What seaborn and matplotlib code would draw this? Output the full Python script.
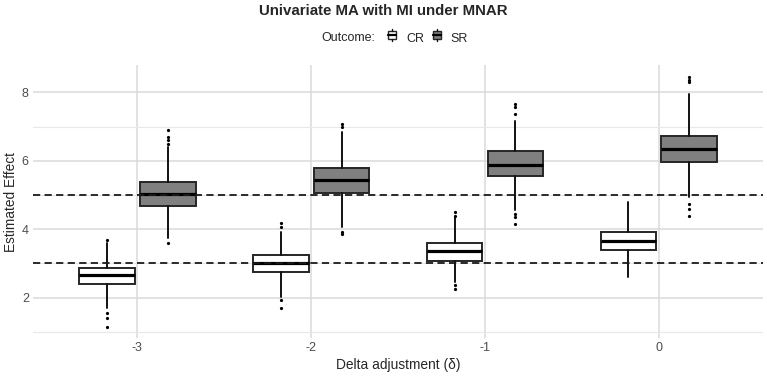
import numpy as np
import pandas as pd
import seaborn as sns
import matplotlib
matplotlib.use("Agg")
import matplotlib.pyplot as plt
from matplotlib.patches import Rectangle
from matplotlib.lines import Line2D
from matplotlib.legend_handler import HandlerBase

# values
deltas = ["-3", "-2", "-1", "0"]

cr_lo = [1.69, 2.02, 2.46, 2.59]
cr_q1 = [2.39, 2.74, 3.08, 3.39]
cr_med = [2.66, 3.00, 3.36, 3.66]
cr_q3 = [2.87, 3.26, 3.60, 3.92]
cr_hi = [3.60, 3.92, 4.36, 4.80]
cr_out = [[3.68, 1.55, 1.40, 1.15], [4.17, 4.07, 1.93, 1.71],
          [4.50, 4.40, 2.36, 2.24], []]

sr_lo = [3.74, 4.07, 4.55, 4.94]
sr_q1 = [4.67, 5.07, 5.56, 5.97]
sr_med = [5.04, 5.45, 5.89, 6.36]
sr_q3 = [5.38, 5.80, 6.28, 6.74]
sr_hi = [6.40, 6.84, 7.15, 7.96]
sr_out = [[6.50, 6.60, 6.69, 6.89, 3.59], [7.09, 6.99, 3.87, 3.93],
          [7.67, 7.57, 7.38, 4.46, 4.36, 4.14], [8.45, 8.35, 8.30, 4.75, 4.60, 4.38]]

ref_lines = [3, 5]

sns.set_theme(style="whitegrid")
plt.rcParams['font.family'] = ['Liberation Sans', 'DejaVu Sans']

fig = plt.figure(figsize=(7.67, 3.76), dpi=100)
ax = fig.add_axes([0.043, 0.101, 0.952, 0.726])


def make_stats(lo, q1, med, q3, hi, out):
    return [dict(whislo=lo[i], q1=q1[i], med=med[i], q3=q3[i], whishi=hi[i],
                 fliers=np.array(out[i])) for i in range(len(lo))]


pos = np.arange(len(deltas))
groups = [("CR", "white", -0.175, make_stats(cr_lo, cr_q1, cr_med, cr_q3, cr_hi, cr_out)),
          ("SR", "#808080", 0.175, make_stats(sr_lo, sr_q1, sr_med, sr_q3, sr_hi, sr_out))]

for name, col, off, stats in groups:
    ax.bxp(stats, positions=pos + off, widths=0.32, patch_artist=True,
           showcaps=False, manage_ticks=False,
           boxprops=dict(facecolor=col, edgecolor="#262626", linewidth=1.4),
           whiskerprops=dict(color="#111111", linewidth=1.4),
           medianprops=dict(color="black", linewidth=2.3),
           flierprops=dict(marker="o", markersize=1.3, markerfacecolor="black",
                           markeredgecolor="black"),
           zorder=3)

for v in ref_lines:
    ax.axhline(v, color="#1a1a1a", linestyle=(0, (4, 2.4)), linewidth=1.3, zorder=4)

ax.set_xlim(-0.6, 3.6)
ax.set_ylim(0.82, 8.8)
ax.set_xticks(pos)
ax.set_xticklabels(deltas)
ax.set_yticks([2, 4, 6, 8])
ax.set_yticks([1, 3, 5, 7], minor=True)
ax.grid(True, which="major", axis="both", color="#dadada", linewidth=1.1)
ax.grid(True, which="minor", axis="y", color="#e8e8e8", linewidth=0.8)
ax.set_axisbelow(True)
for s in ax.spines.values():
    s.set_visible(False)
ax.tick_params(axis="both", which="both", length=0, labelsize=9, labelcolor="#4d4d4d", pad=3)
ax.set_xlabel("Delta adjustment (δ)", fontsize=9.9, labelpad=3)
ax.set_ylabel("Estimated Effect", fontsize=9.9, labelpad=3)

fig.text(0.5, 0.972, "Univariate MA with MI under MNAR", ha="center", va="center",
         fontsize=10.8, fontweight="bold")


class BoxHandler(HandlerBase):
    def create_artists(self, legend, orig, xd, yd, w, h, fontsize, trans):
        fc = orig.get_facecolor()
        cx = xd + w / 2
        bw = w * 0.8
        r = Rectangle((cx - bw / 2, yd + h * 0.15), bw, h * 0.7, facecolor=fc,
                      edgecolor="#262626", linewidth=1.0, transform=trans)
        wt = Line2D([cx, cx], [yd + h * 0.85, yd + h * 1.05], color="#111111", lw=1.0, transform=trans)
        wb = Line2D([cx, cx], [yd - h * 0.05, yd + h * 0.15], color="#111111", lw=1.0, transform=trans)
        md = Line2D([cx - bw / 2, cx + bw / 2], [yd + h * 0.5, yd + h * 0.5], color="black", lw=1.6,
                    transform=trans)
        return [r, wt, wb, md]


handles = [Rectangle((0, 0), 1, 1, facecolor="white"), Rectangle((0, 0), 1, 1, facecolor="#808080")]
fig.text(0.489, 0.898, "Outcome:", ha="right", va="center", fontsize=9)
fig.legend(handles, ["CR", "SR"], handler_map={Rectangle: BoxHandler()},
           loc="center left", bbox_to_anchor=(0.505, 0.898), ncol=2, frameon=False,
           fontsize=9, handlelength=0.8, handleheight=1.0, handletextpad=0.7,
           columnspacing=0.6, borderpad=0, borderaxespad=0)

fig.savefig("out.png", dpi=100)
